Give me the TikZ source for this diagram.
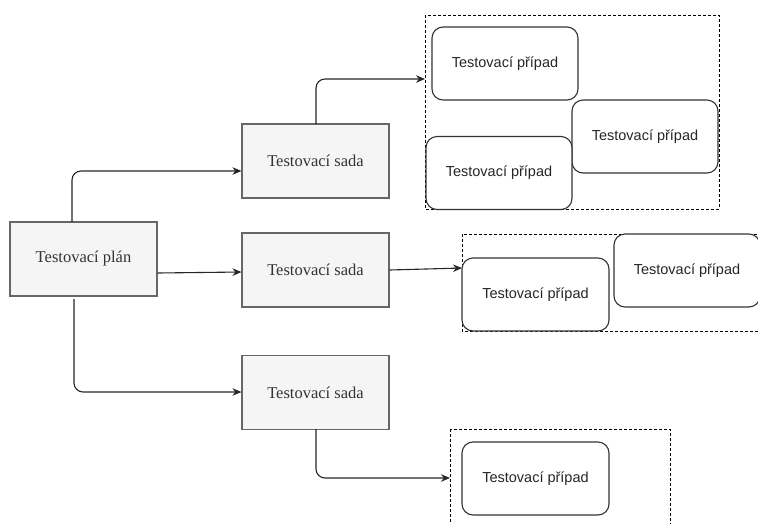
\documentclass[tikz,border=0pt]{standalone}
\usepackage{fontspec}
\setmainfont{Liberation Serif}
\newfontfamily\casefont{Liberation Sans}
\usetikzlibrary{arrows.meta}
\definecolor{boxfill}{HTML}{F5F5F5}
\definecolor{boxline}{HTML}{666666}
\definecolor{boxtext}{HTML}{333333}
\begin{document}
\begin{tikzpicture}[x=1pt,y=-1pt,
  planbox/.style={draw=boxline,fill=boxfill,line width=1.1pt,text=boxtext,
    font=\fontsize{16.5}{18}\selectfont},
  casebox/.style={draw=black!80,fill=white,rounded corners=11pt,line width=1.1pt,
    text=black!85,font=\casefont\fontsize{14.5}{16}\selectfont},
  group/.style={draw=black,dashed,dash pattern=on 3pt off 2pt,line width=0.9pt},
  link/.style={draw=black!85,line width=1.1pt,rounded corners=9pt,
    -{Stealth[length=9pt,width=7.5pt]}}]
\clip (0,0) rectangle (758,523);
% frames around each set of test cases
\draw[group] (425,15) rectangle (719,209);
\draw[group] (462,234) rectangle (800,331);
\draw[group] (450,429) rectangle (670,540);
% plan and suites
\node[planbox,minimum width=147pt,minimum height=74pt] (plan) at (83.5,259) {Testovací plán};
\node[planbox,minimum width=147pt,minimum height=74pt] (s1) at (315.5,161) {Testovací sada};
\node[planbox,minimum width=147pt,minimum height=74pt] (s2) at (315.5,270) {Testovací sada};
\node[planbox,minimum width=147pt,minimum height=74pt] (s3) at (315.5,392.5) {Testovací sada};
% test cases
\node[casebox,minimum width=146pt,minimum height=73pt] (c1) at (505,63.5) {Testovací případ};
\node[casebox,minimum width=146pt,minimum height=73pt] (c3) at (645,136.5) {Testovací případ};
\node[casebox,minimum width=146pt,minimum height=73pt] (c2) at (499,173) {Testovací případ};
\node[casebox,minimum width=146pt,minimum height=73pt] (c5) at (687,270.5) {Testovací případ};
\node[casebox,minimum width=147pt,minimum height=73pt] (c4) at (535.5,294.5) {Testovací případ};
\node[casebox,minimum width=147pt,minimum height=73pt] (c6) at (535.5,478.5) {Testovací případ};
% anchors on the dashed frames
\coordinate (g1) at (425,79);
\coordinate (g2) at (462,268);
\coordinate (g3) at (450,478);
% connectors
\draw[link] (72,222) |- (s1.west |- 0,171);
\draw[link] (plan.east |- 0,273) -- (s2.west |- 0,272);
\draw[link] (74,299) |- (s3.west |- 0,392);
\draw[link] (316,124) |- (g1);
\draw[link] (s2.east |- 0,270) -- (g2);
\draw[link] (316,429) |- (g3);
\end{tikzpicture}
\end{document}
